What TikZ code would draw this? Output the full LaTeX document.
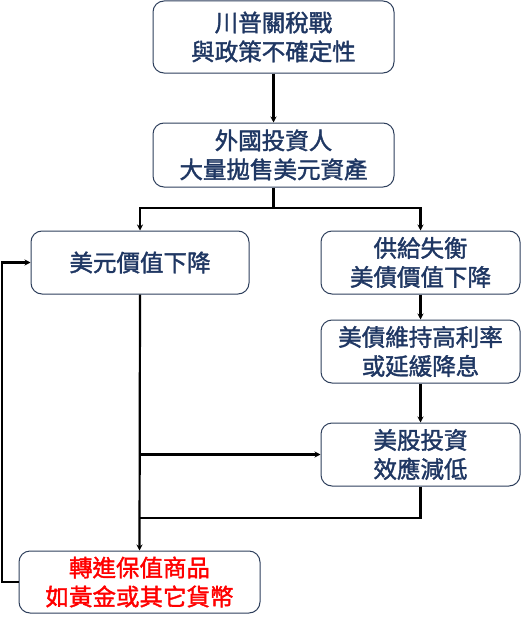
\documentclass[tikz,border=0pt]{standalone}
\usepackage{fontspec}
\setmainfont{Noto Sans CJK TC}[FakeBold=1.6]
\usetikzlibrary{arrows.meta}
\definecolor{navy}{HTML}{1F3763}
\definecolor{boxline}{HTML}{2E3F5C}
\definecolor{hotred}{HTML}{FF0000}
\tikzset{
  box/.style={draw=boxline, line width=1pt, rounded corners=11pt, fill=white,
    text=navy, align=center, inner sep=0pt,
    font=\fontsize{23.5}{29}\selectfont},
  conn/.style={line width=2.2pt, black},
  arr/.style={conn, -{Stealth[length=6pt,width=6pt]}},
}
\begin{document}
\begin{tikzpicture}[x=1pt,y=-1pt]
\useasboundingbox (0,0) rectangle (521,626);
\node[box, minimum width=241pt, minimum height=72pt] (b1) at (273.5,37) {川普關稅戰\\與政策不確定性};
\node[box, minimum width=241pt, minimum height=64pt] (b2) at (273.5,155) {外國投資人\\大量拋售美元資產};
\node[box, minimum width=218pt, minimum height=63pt] (b3) at (140,262.5) {美元價值下降};
\node[box, minimum width=199pt, minimum height=63pt] (b4) at (420.5,262.5) {供給失衡\\美債價值下降};
\node[box, minimum width=199pt, minimum height=63pt] (b5) at (420.5,351.5) {美債維持高利率\\或延緩降息};
\node[box, minimum width=199pt, minimum height=63pt] (b6) at (420.5,454.5) {美股投資\\效應減低};
\node[box, minimum width=241pt, minimum height=62pt, text=hotred] (b7) at (139.5,582) {轉進保值商品\\如黃金或其它貨幣};
\coordinate (split) at (273.5,208);
\coordinate (j1) at (b3.south |- b6.west);
\coordinate (j2) at (b3.south |- 0,518);
\coordinate (fb) at (2,0);
\draw[arr] (b1) -- (b2);
\draw[conn] (b2.south) -- (split);
\draw[arr] (split) -| (b3.north);
\draw[arr] (split) -| (b4.north);
\draw[arr] (b4) -- (b5);
\draw[arr] (b5) -- (b6);
\draw[arr] (b3.south) -- (b7.north);
\draw[arr] (j1) -- (b6.west);
\draw[conn] (b6.south) |- (j2);
\draw[arr] (b7.west) -- (fb |- b7.west) -- (fb |- b3.west) -- (b3.west);
\end{tikzpicture}
\end{document}
